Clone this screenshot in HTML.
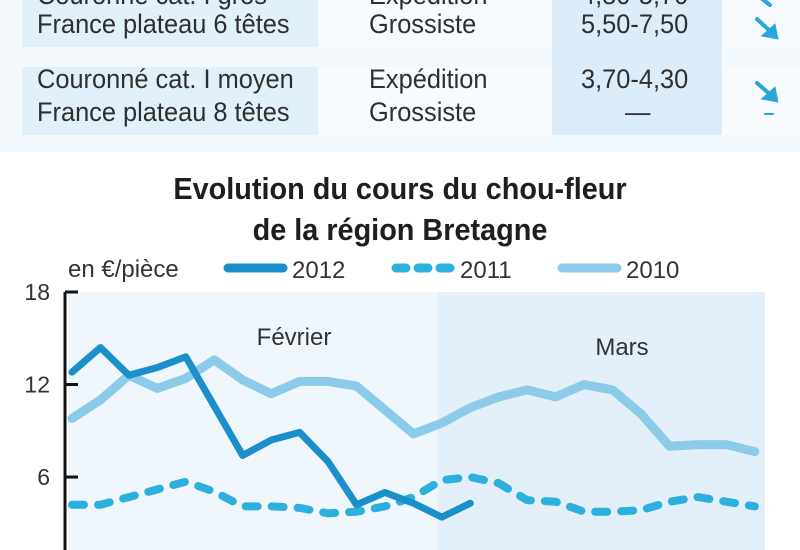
<!DOCTYPE html>
<html><head><meta charset="utf-8"><style>
body{margin:0;width:800px;height:550px;overflow:hidden;background:#f4f9fd;font-family:"Liberation Sans",sans-serif;color:#2f2f2f;}
.t{position:absolute;white-space:nowrap;font-size:27px;transform-origin:left center;transform:scaleX(0.94);}
.bg{position:absolute;}
</style></head><body>
<div class="bg" style="left:22px;top:0;width:296px;height:47px;background:#e1f0f9"></div>
<div class="bg" style="left:22px;top:67px;width:296px;height:68px;background:#e1f0f9"></div>
<div class="bg" style="left:318px;top:0;width:234px;height:47px;background:#f7fbfe"></div>
<div class="bg" style="left:318px;top:67px;width:234px;height:68px;background:#f7fbfe"></div>
<div class="bg" style="left:552px;top:0;width:170px;height:135px;background:#dcedf9"></div>
<div class="bg" style="left:722px;top:0;width:78px;height:47px;background:#f7fbfe"></div>
<div class="bg" style="left:722px;top:67px;width:78px;height:68px;background:#f7fbfe"></div>
<div class="t" style="left:37px;top:-20px">Couronné cat. I gros</div>
<div class="t" style="left:369px;top:-20px">Expédition</div>
<div class="t" style="left:581px;top:-20px">4,80-5,70</div>
<div class="t" style="left:37px;top:9px">France plateau 6 têtes</div>
<div class="t" style="left:369px;top:9px">Grossiste</div>
<div class="t" style="left:581px;top:9px">5,50-7,50</div>
<div class="t" style="left:37px;top:64px">Couronné cat. I moyen</div>
<div class="t" style="left:369px;top:64px">Expédition</div>
<div class="t" style="left:581px;top:64px">3,70-4,30</div>
<div class="t" style="left:37px;top:97px">France plateau 8 têtes</div>
<div class="t" style="left:369px;top:97px">Grossiste</div>
<div class="t" style="left:625px;top:97px">—</div>
<svg style="position:absolute;left:0;top:0" width="800" height="140">
<g stroke="#2aa6d8" stroke-width="4" stroke-linecap="round" fill="#2aa6d8">
<line x1="757" y1="-5" x2="770" y2="5"/><line x1="757" y1="19" x2="772" y2="33"/><polygon points="776,37 765,35 774,27"/>
<line x1="757" y1="83" x2="772" y2="96"/><polygon points="776,100 765,98 774,90"/>
<line x1="765" y1="114" x2="773" y2="114" stroke-width="2"/></g></svg>
<div class="bg" style="left:0;top:152px;width:800px;height:398px;background:#ffffff"></div>
<div style="position:absolute;left:0;width:800px;top:168px;text-align:center;font-weight:bold;font-size:31px;line-height:41px;color:#1e1e1e;transform:scaleX(0.93);">Evolution du cours du chou-fleur<br>de la région Bretagne</div>
<svg id="c" style="position:absolute;left:0;top:0" width="800" height="550"></svg>
<script>
const days=[...Array(25).keys()];
const v2012=[12.8,14.4,12.6,13.1,13.8,10.6,7.4,8.4,8.9,7.0,4.2,5.0,4.3,3.4,4.3];
const v2011=[4.2,4.2,4.7,5.2,5.7,5.05,4.1,4.1,4.0,3.65,3.75,4.1,4.7,5.8,6.0,5.6,4.5,4.4,3.75,3.75,3.85,4.4,4.7,4.4,4.1];
const v2010=[9.8,11.0,12.6,11.75,12.4,13.6,12.3,11.4,12.2,12.2,11.9,10.35,8.8,9.5,10.5,11.2,11.65,11.2,12.0,11.65,10.1,8.0,8.1,8.1,7.65];
const yTicks=[6,12,18];
const months=["Février","Mars"];
const NS="http://www.w3.org/2000/svg",s=document.getElementById('c');
const X=i=>72+i*28.45, Y=v=>292+(18-v)*15.42;
function mk(t,a){const e=document.createElementNS(NS,t);for(const k in a)e.setAttribute(k,a[k]);s.appendChild(e);return e;}
let e=mk('rect',{x:68,y:292,width:370,height:258,fill:'#f0f7fc'});


e=mk('rect',{x:438,y:292,width:327,height:258,fill:'#e3f0f9'});


e=mk('line',{x1:65,y1:292,x2:65,y2:550,stroke:'#111','stroke-width':3});


yTicks.forEach(t=>{let l=mk('line',{x1:65,x2:78,y1:Y(t),y2:Y(t),stroke:'#111','stroke-width':3});


let tx=mk('text',{x:50,y:Y(t)+8,'text-anchor':'end','font-size':23,fill:'#333','font-family':'Liberation Sans'});tx.textContent=t;

});
[[294,months[0]],[622,months[1]]].forEach(([x,m],k)=>{let tx=mk('text',{x:x,y:k?355:345,'text-anchor':'middle','font-size':24,fill:'#333','font-family':'Liberation Sans'});tx.textContent=m;

});
function line(vals,col,w,dash,name){let p=mk('polyline',{points:vals.map((v,i)=>X(i)+','+Y(v)).join(' '),fill:'none',stroke:col,'stroke-width':w,'stroke-linejoin':'round','stroke-linecap':'round'});if(dash)p.setAttribute('stroke-dasharray',dash);

}
line(v2010,'#8dcbea',9,null,'series-2010');
line(v2011,'#2cb0de',8,'12 14','series-2011');
line(v2012,'#1b8fca',7,null,'series-2012');
let tx=mk('text',{x:68,y:277,'font-size':24,fill:'#333','font-family':'Liberation Sans'});tx.textContent='en €/pièce';


[['2012','#1b8fca',228,null],['2011','#2cb0de',396,'10 12'],['2010','#8dcbea',562,null]].forEach(([n,c,x,d])=>{
let l=mk('line',{x1:x,x2:x+55,y1:268,y2:268,stroke:c,'stroke-width':9,'stroke-linecap':'round'});if(d)l.setAttribute('stroke-dasharray',d);


let t=mk('text',{x:x+64,y:278,'font-size':24,fill:'#333','font-family':'Liberation Sans'});t.textContent=n;

});
</script>
</body></html>
